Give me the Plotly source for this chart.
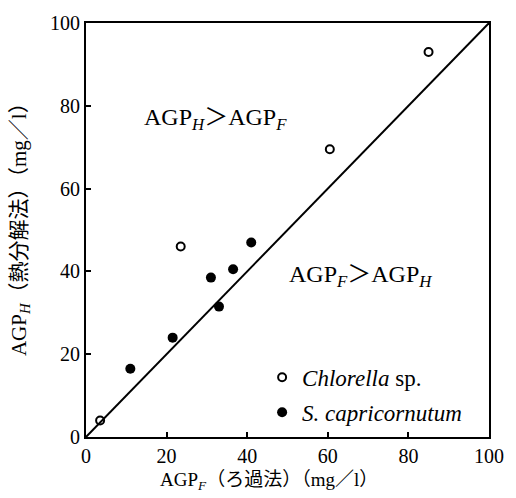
import plotly.graph_objects as go

# AGP measured by filtration (F) vs thermal decomposition (H), mg/l
chlorella_f = [3.5, 23.5, 60.5, 85.0]
chlorella_h = [4.0, 46.0, 69.5, 93.0]

capri_f = [11.0, 21.5, 31.0, 33.0, 36.5, 41.0]
capri_h = [16.5, 24.0, 38.5, 31.5, 40.5, 47.0]

ref_line = [0, 100]
tick_vals = [0, 20, 40, 60, 80, 100]
tick_text = ["0", "20", "40", "60", "80", "100"]

SERIF = "Liberation Serif, Times New Roman, Noto Sans CJK JP, serif"

fig = go.Figure()

# 1:1 line
fig.add_trace(go.Scatter(
    x=ref_line, y=ref_line, mode="lines",
    line=dict(color="black", width=2), showlegend=False, hoverinfo="skip"))

fig.add_trace(go.Scatter(
    x=chlorella_f, y=chlorella_h, mode="markers",
    name="<i>Chlorella</i> sp.", legendgroup="a",
    marker=dict(symbol="circle-open", size=8, color="black",
                line=dict(color="black", width=2))))

fig.add_trace(go.Scatter(
    x=capri_f, y=capri_h, mode="markers",
    name="<i>S. capricornutum</i>", legendgroup="b",
    marker=dict(symbol="circle", size=10, color="black")))

axis_common = dict(
    range=[0, 100], tickmode="array", tickvals=tick_vals, ticktext=tick_text,
    showgrid=False, zeroline=False, showline=True, linecolor="black",
    linewidth=2, mirror=True, ticks="inside", ticklen=5, tickwidth=1.5,
    tickcolor="black", tickfont=dict(family=SERIF, size=20, color="black"),
)

fig.update_layout(
    width=516, height=498,
    margin=dict(l=86, r=16, t=14, b=61),
    paper_bgcolor="white", plot_bgcolor="white",
    xaxis=dict(**axis_common),
    yaxis=dict(**axis_common),
    font=dict(family=SERIF, color="black"),
    legend=dict(x=0.437, y=0.196, xanchor="left", yanchor="top",
                bgcolor="rgba(0,0,0,0)", borderwidth=0,
                font=dict(family=SERIF, size=23, color="black"),
                tracegroupgap=2, itemwidth=30),
    annotations=[
        dict(text="AGP<sub><i>H</i></sub>＞AGP<sub><i>F</i></sub>",
             x=13.8, y=76.8, xref="x", yref="y", xanchor="left",
             yanchor="middle", showarrow=False,
             font=dict(family=SERIF, size=24, color="black")),
        dict(text="AGP<sub><i>F</i></sub>＞AGP<sub><i>H</i></sub>",
             x=49.8, y=38.8, xref="x", yref="y", xanchor="left",
             yanchor="middle", showarrow=False,
             font=dict(family=SERIF, size=24, color="black")),
        dict(text="AGP<sub><i>F</i></sub>（ろ過法）（mg／l）",
             x=0.454, y=-0.106, xref="paper", yref="paper",
             xanchor="center", yanchor="middle", showarrow=False,
             font=dict(family=SERIF, size=19, color="black")),
        dict(text="AGP<sub><i>H</i></sub>（熱分解法）（mg／l）",
             x=-0.165, y=0.513, xref="paper", yref="paper",
             xanchor="center", yanchor="middle", showarrow=False,
             textangle=-90,
             font=dict(family=SERIF, size=21, color="black")),
    ],
)

fig.write_html("out.html")
